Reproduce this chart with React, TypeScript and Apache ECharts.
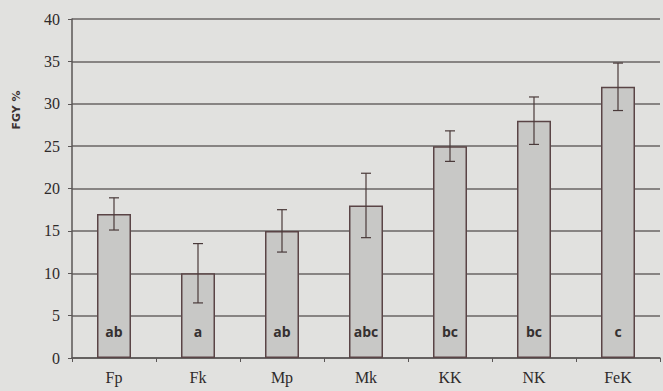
import React, { useEffect, useRef } from "react";
import * as echarts from "echarts";

const categories = ["Fp", "Fk", "Mp", "Mk", "KK", "NK", "FeK"];
const means = [17, 10, 15, 18, 25, 28, 32];
const errors = [1.9, 3.5, 2.5, 3.8, 1.8, 2.8, 2.8];
const groupLetters = ["ab", "a", "ab", "abc", "bc", "bc", "c"];
const yTicks = { min: 0, max: 40, step: 5 };
const yTitle = "FGY %";

export default function App() {
  const ref = useRef<HTMLDivElement>(null);

  useEffect(() => {
    if (!ref.current) return;
    const chart = echarts.init(ref.current, null, { renderer: "svg" });
    const errorData = means.map((m, i) => [i, m - errors[i], m + errors[i]]);

    chart.setOption({
      animation: false,
      backgroundColor: "#e1e1df",
      grid: { left: 72, right: 3, top: 19, bottom: 33 },
      xAxis: {
        type: "category",
        data: categories,
        axisLine: { show: true, lineStyle: { color: "#5a5656", width: 1.5 } },
        axisTick: { show: true, length: 4, lineStyle: { color: "#5a5656" } },
        axisLabel: {
          color: "#2e2a2a",
          fontFamily: "Liberation Serif",
          fontSize: 16,
          margin: 11,
        },
      },
      yAxis: {
        type: "value",
        min: yTicks.min,
        max: yTicks.max,
        interval: yTicks.step,
        axisLine: { show: true, lineStyle: { color: "#5a5656", width: 1.5 } },
        axisTick: { show: true, length: 4, lineStyle: { color: "#5a5656" } },
        axisLabel: {
          color: "#2e2a2a",
          fontFamily: "Liberation Serif",
          fontSize: 16,
          margin: 12,
        },
        splitLine: { show: true, lineStyle: { color: "#686565", width: 1.6 } },
      },
      graphic: [
        {
          type: "text",
          x: 16,
          y: 110,
          rotation: Math.PI / 2,
          style: {
            text: yTitle,
            fontFamily: "DejaVu Sans",
            fontWeight: "bold",
            fontSize: 11,
            fill: "#3a3030",
            align: "center",
            verticalAlign: "middle",
          },
        },
      ],
      series: [
        {
          type: "bar",
          data: means,
          barWidth: 34,
          itemStyle: {
            color: "#c8c8c6",
            borderColor: "#5a4446",
            borderWidth: 1.5,
          },
          label: {
            show: true,
            position: "insideBottom",
            distance: 20,
            formatter: (p: any) => groupLetters[p.dataIndex],
            fontFamily: "Open Sans",
            fontWeight: "bold",
            fontSize: 14,
            color: "#353030",
          },
          z: 2,
        },
        {
          type: "custom",
          data: errorData,
          z: 3,
          renderItem: (params: any, api: any) => {
            const x = api.value(0);
            const lo = api.coord([x, api.value(1)]);
            const hi = api.coord([x, api.value(2)]);
            const cap = 5;
            const style = { stroke: "#4a3a3a", lineWidth: 1.2 };
            return {
              type: "group",
              children: [
                { type: "line", shape: { x1: hi[0], y1: hi[1], x2: lo[0], y2: lo[1] }, style },
                { type: "line", shape: { x1: hi[0] - cap, y1: hi[1], x2: hi[0] + cap, y2: hi[1] }, style },
                { type: "line", shape: { x1: lo[0] - cap, y1: lo[1], x2: lo[0] + cap, y2: lo[1] }, style },
              ],
            };
          },
        },
      ],
    });

    return () => chart.dispose();
  }, []);

  return (
    <div
      ref={ref}
      style={{ position: "absolute", left: 0, top: 0, width: 663, height: 391 }}
    />
  );
}
